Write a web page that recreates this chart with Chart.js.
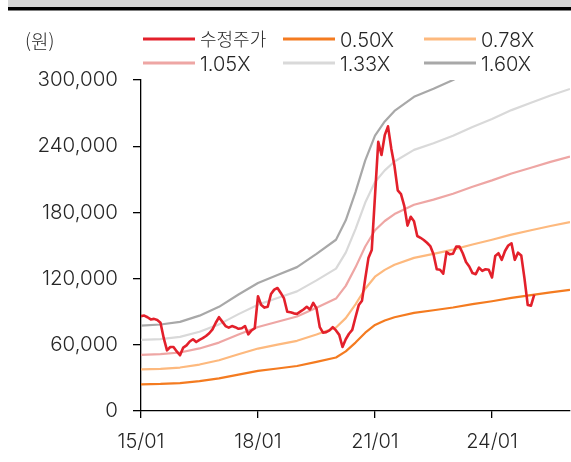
<!DOCTYPE html>
<html lang="ko">
<head>
<meta charset="utf-8">
<title>수정주가 PBR 밴드</title>
<script src="https://cdn.jsdelivr.net/npm/chart.js@4.4.1/dist/chart.umd.min.js"></script>
<style>
  html, body { margin: 0; padding: 0; background: #fff; }
  #wrap { width: 571px; height: 462px; position: relative; }
</style>
</head>
<body>
<div id="wrap"><canvas id="c" width="571" height="462"></canvas></div>
<script>
// Monthly adjusted share price, month 0 = 2015/01 (원)
const priceValues = [
  86000, 86500, 85000, 83000, 83500, 82500, 80000, 66000, 55000, 58000, 58000, 54000,
  50500, 57500, 59500, 63000, 65000, 62500, 64500, 66000, 68000, 70500, 74000, 80000,
  85000, 81000, 77000, 75500, 77000, 76000, 74500, 75000, 77000, 69500, 73000, 75000,
  104000, 96000, 93700, 94500, 106000, 110000, 111500, 107000, 102000, 90000, 89500, 88500,
  88000, 90000, 92000, 94500, 92000, 98000, 93000, 76000, 71000, 71500, 73000, 76000,
  73000, 69000, 58000, 65000, 70000, 73500, 85000, 96000, 100000, 120000, 139000, 146000,
  195000, 244000, 232000, 250000, 258000, 238000, 222000, 200000, 196500, 186000, 168000, 176000,
  172000, 158600, 157000, 155000, 152500, 149500, 142000, 128400, 128000, 124500, 144000, 142000,
  142500, 149000, 149000, 143000, 135000, 131000, 125000, 124000, 130000, 127000, 128500, 128000,
  121000, 140500, 143000, 137000, 145000, 150000, 152000, 137000, 143500, 141000, 120000, 96000,
  95500, 105500
];

// PBR band months (month 0 = 2015/01)
const bandMonths = [0, 6, 12, 18, 24, 30, 36, 42, 48, 54, 60, 63, 66, 69, 72, 75, 78, 84, 90, 96, 102, 108, 114, 120, 126, 132];

const band050 = [24200, 24500, 25300, 27000, 29500, 33000, 36300, 38500, 40800, 44500, 48500, 54000, 62000,
  71000, 78000, 82000, 85000, 89000, 91300, 93800, 96800, 99500, 102500, 105000, 107500, 109800];
const band078 = [37800, 38200, 39400, 42100, 46000, 51500, 56600, 60100, 63600, 69400, 75700, 84200, 96700,
  110800, 121700, 127900, 132600, 138800, 142400, 146300, 150900, 155200, 159900, 163800, 167700, 171200];
const band105 = [50800, 51500, 53000, 56700, 62000, 69300, 76100, 80900, 85600, 93500, 101900, 113400, 130200,
  149100, 163800, 172200, 178500, 186900, 191600, 196900, 203200, 209000, 215300, 220500, 225800, 230500];
const band133 = [64400, 65200, 67200, 71800, 78500, 87800, 96400, 102400, 108400, 118400, 129000, 143600, 164900,
  188900, 207500, 218100, 226100, 236700, 242700, 249400, 257400, 264700, 272700, 279300, 286000, 291900];
const band160 = [77400, 78400, 80800, 86400, 94400, 105600, 116000, 123200, 130400, 142400, 155200, 172800, 198400,
  227200, 249600, 262400, 272000, 284800, 292000, 300000, 309600, 318400, 328000, 336000, 344000, 351200];

const seriesLabels = ['수정주가', '0.50X', '0.78X', '1.05X', '1.33X', '1.60X'];
const seriesColors = ['#e3202b', '#f47b20', '#fdb97e', '#eea6a4', '#d9d9d9', '#a8a8a8'];

const xTickMonths = [0, 36, 72, 108];
const xTickLabels = ['15/01', '18/01', '21/01', '24/01'];
const yTickValues = [0, 60000, 120000, 180000, 240000, 300000];
const unitLabel = '(원)';

const toPoints = (xs, ys) => ys.map((v, i) => ({ x: xs[i], y: v }));
const priceMonths = priceValues.map((_, i) => i);

const bandSeries = [band050, band078, band105, band133, band160];

const datasets = [
  {
    label: seriesLabels[0],
    data: toPoints(priceMonths, priceValues),
    borderColor: seriesColors[0],
    borderWidth: 2.6,
    pointRadius: 0,
    tension: 0,
    borderJoinStyle: 'round',
    clip: 0
  }
].concat(bandSeries.map((vals, k) => ({
  label: seriesLabels[k + 1],
  data: toPoints(bandMonths, vals),
  borderColor: seriesColors[k + 1],
  borderWidth: 2.2,
  pointRadius: 0,
  tension: 0,
  borderJoinStyle: 'round',
  clip: 0
})));

const LATIN = '"Inter", "Noto Sans", sans-serif';
const HANGUL = '"Noto Sans CJK KR", sans-serif';
const TEXT_COLOR = '#262626';
const WEIGHT = 300;

// Page header rule, unit label and legend drawn straight onto the canvas
const decorations = {
  id: 'decorations',
  beforeDraw(chart) {
    const ctx = chart.ctx;
    ctx.save();
    ctx.fillStyle = '#d6d6d6';
    ctx.fillRect(8, 0, 563, 7);
    ctx.fillStyle = '#000';
    ctx.fillRect(8, 7, 563, 3.5);
    ctx.restore();
  },
  afterDraw(chart) {
    const ctx = chart.ctx;
    ctx.save();
    ctx.textBaseline = 'middle';
    ctx.fillStyle = TEXT_COLOR;
    ctx.font = WEIGHT + ' 19px ' + HANGUL;
    ctx.fillText(unitLabel, 25, 42);

    const cols = [143, 283, 424];
    const rows = [39, 63];
    seriesLabels.forEach((lab, i) => {
      const x = cols[i % 3];
      const y = rows[Math.floor(i / 3)];
      ctx.strokeStyle = seriesColors[i];
      ctx.lineWidth = 3;
      ctx.beginPath();
      ctx.moveTo(x, y);
      ctx.lineTo(x + 52, y);
      ctx.stroke();
      ctx.fillStyle = TEXT_COLOR;
      ctx.font = WEIGHT + (i === 0 ? ' 18px ' + HANGUL : ' 20px ' + LATIN);
      ctx.fillText(lab, x + 57, y + (i === 0 ? 0 : 2));
    });
    ctx.restore();
  }
};

new Chart(document.getElementById('c'), {
  type: 'line',
  data: { datasets },
  plugins: [decorations],
  options: {
    responsive: false,
    animation: false,
    events: [],
    layout: { padding: { top: 80, right: 1, left: 0, bottom: 0 } },
    plugins: { legend: { display: false }, tooltip: { enabled: false } },
    scales: {
      x: {
        type: 'linear',
        min: 0,
        max: 132,
        afterBuildTicks(scale) {
          scale.ticks = xTickMonths.map(v => ({ value: v }));
        },
        afterFit(scale) { scale.height = 51; },
        ticks: {
          autoSkip: false,
          maxRotation: 0,
          padding: 12,
          color: TEXT_COLOR,
          font: { family: LATIN, size: 20, weight: WEIGHT },
          callback(v) {
            const i = xTickMonths.indexOf(v);
            return i >= 0 ? xTickLabels[i] : '';
          }
        },
        grid: { drawOnChartArea: false, drawTicks: true, tickLength: 7, color: '#000', lineWidth: 1.3 },
        border: { display: true, color: '#000', width: 1.3 }
      },
      y: {
        min: 0,
        max: 300000,
        afterBuildTicks(scale) {
          scale.ticks = yTickValues.map(v => ({ value: v }));
        },
        afterFit(scale) { scale.width = 141; },
        ticks: {
          padding: 15,
          color: TEXT_COLOR,
          font: { family: LATIN, size: 20.5, weight: WEIGHT },
          callback(v) { return Number(v).toLocaleString('en-US'); }
        },
        grid: { drawOnChartArea: false, drawTicks: true, tickLength: 8, color: '#000', lineWidth: 1.3 },
        border: { display: true, color: '#000', width: 1.3 }
      }
    }
  }
});
</script>
</body>
</html>
